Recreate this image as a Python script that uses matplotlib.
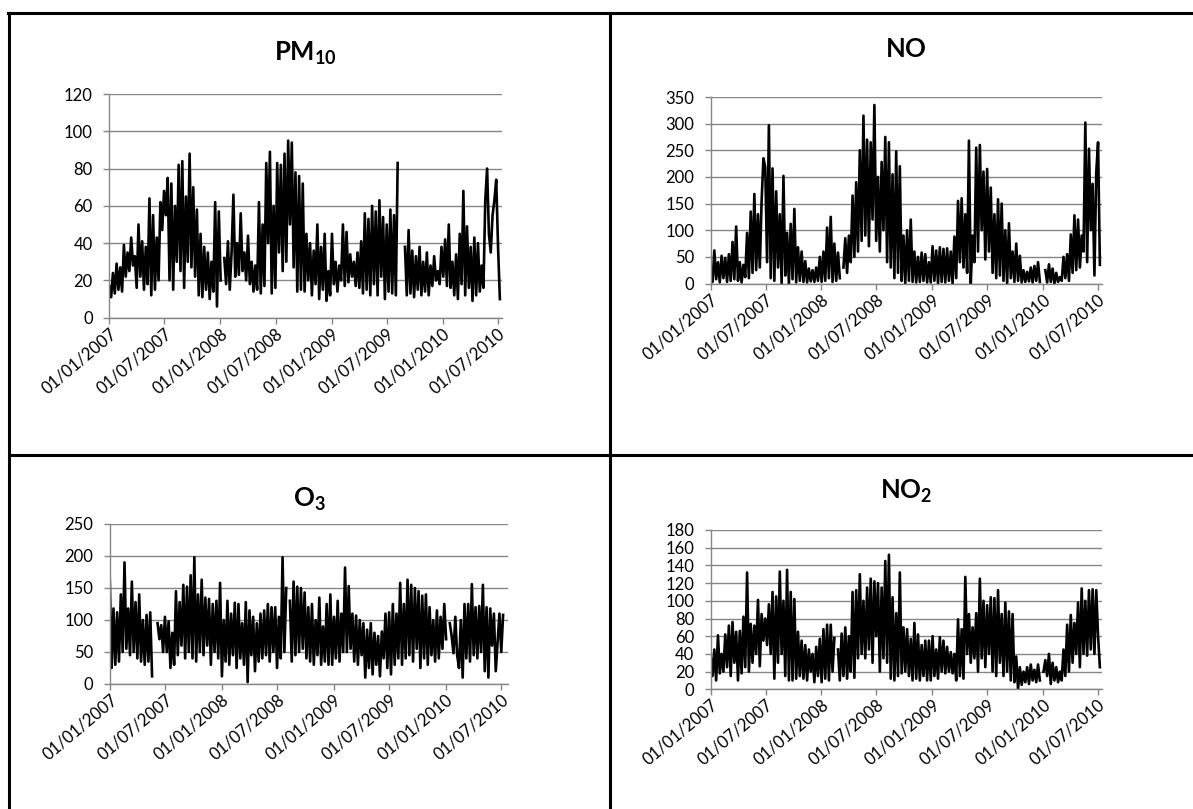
import numpy as np
import pandas as pd
import matplotlib
matplotlib.use('Agg')
import matplotlib.pyplot as plt
from matplotlib.lines import Line2D

plt.rcParams['font.family'] = ['Lato', 'DejaVu Sans']
plt.rcParams['mathtext.fontset'] = 'custom'
plt.rcParams['mathtext.rm'] = 'Lato'
plt.rcParams['mathtext.bf'] = 'Lato:bold'

nan = np.nan

# valors aproximats, un cada 6 dies (aprox. 30 per semestre)
pm10 = [17, 11, 24, 13, 29, 15, 27, 14, 39, 22, 35, 25, 43, 28, 33, 16, 50, 22, 41, 15, 38, 18, 64, 12, 55, 15, 43, 20, 62, 47,
        68, 55, 75, 20, 72, 15, 60, 30, 82, 25, 84, 16, 65, 30, 88, 27, 70, 22, 58, 12, 45, 11, 38, 15, 35, 10, 30, 14, 62, 6,
        57, 20, nan, 32, 18, 41, 15, 35, 66, 22, 40, 23, 56, 25, 35, 20, 44, 18, 30, 14, 28, 15, 62, 13, 50, 17, 83, 40, 89, 13,
        60, 16, 83, 35, 82, 25, 88, 30, 95, 50, 94, 27, 78, 14, 76, 15, 72, 14, 45, 20, 40, 12, 36, 18, 50, 10, 38, 15, 45, 9,
        25, 12, 45, 18, 30, 14, 28, 20, 50, 17, 46, 19, 34, 22, 30, 17, 35, 16, 41, 13, 56, 15, 53, 12, 60, 18, 57, 12, 63, 22,
        54, 10, 50, 14, 58, 13, 55, 12, 83, nan, nan, nan, 38, 12, 47, 13, 36, 11, 33, 15, 38, 12, 30, 14, 35, 12, 28, 17, 33, 20,
        25, 18, 38, 22, 42, 17, 50, 16, 30, 12, 34, 10, 45, 18, 68, 12, 49, 16, 38, 9, 43, 12, 40, 14, 28, 16, 63, 80, 45, 35,
        55, 63, 74, 38, 10]

no = [25, 3, 62, 8, 40, 2, 52, 10, 48, 3, 55, 5, 78, 8, 107, 5, 40, 2, 35, 12, 95, 10, 135, 20, 168, 25, 130, 30, 155, 235,
      218, 40, 297, 10, 216, 5, 173, 30, 130, 0, 202, 15, 95, 0, 112, 8, 140, 2, 68, 5, 60, 3, 42, 2, 28, 4, 25, 3, 30, 5,
      50, 3, 60, 5, 105, 10, 125, 3, 75, 5, 58, 10, nan, 30, 85, 20, 90, 40, 165, 50, 190, 60, 250, 80, 315, 90, 270, 70, 265, 120,
      335, 80, 200, 60, 228, 100, 275, 40, 265, 30, 205, 10, 248, 20, 220, 5, 90, 0, 100, 5, 120, 3, 60, 2, 50, 3, 58, 5, 55, 2,
      40, 2, 70, 5, 62, 0, 68, 3, 65, 2, 66, 5, 60, 0, 88, 10, 155, 40, 160, 30, 130, 20, 268, 0, 90, 40, 255, 60, 260, 100,
      210, 45, 215, 60, 180, 20, 130, 10, 158, 15, 150, 5, 100, 0, 113, 10, 60, 3, 75, 5, 52, 2, 25, 3, 22, 4, 30, 2, 33, 5,
      40, 3, nan, nan, 25, 2, 36, 3, 28, 0, 20, 3, 12, 5, 50, 10, 55, 5, 92, 20, 128, 25, 120, 30, 90, 60, 302, 40, 253, 100,
      187, 15, 208, 265, 35]

o3 = [163, 25, 118, 30, 112, 35, 140, 50, 190, 55, 118, 45, 160, 50, 128, 40, 140, 35, 100, 30, 108, 35, 112, 12, nan, nan, 95, 70, 92, 50,
      105, 50, 98, 25, 80, 30, 145, 45, 128, 60, 155, 40, 152, 50, 170, 40, 198, 35, 140, 50, 163, 45, 135, 60, 133, 30, 125, 50, 130, 40,
      158, 12, 100, 35, 130, 30, 110, 45, 127, 25, 125, 40, 95, 30, 128, 3, 115, 45, 105, 20, 95, 35, 110, 40, 115, 45, 125, 35, 120, 50,
      120, 25, 105, 40, 198, 50, 150, nan, 130, 35, 160, 45, 152, 50, 150, 55, 143, 40, 120, 35, 125, 30, 100, 45, 135, 30, 90, 35, 125, 30,
      140, 30, 105, 40, 130, 35, 110, 50, 182, 50, 153, 55, 110, 35, 107, 30, 100, 45, 95, 10, 85, 25, 95, 15, 80, 30, 75, 12, 82, 40,
      110, 25, 112, 15, 125, 30, 110, 40, 158, 30, 125, 40, 163, 45, 155, 35, 150, 55, 145, 25, 138, 40, 140, 30, 120, 45, 100, 35, 115, 40,
      105, 55, 125, 70, nan, 95, 75, 48, 105, 45, 25, 100, 10, 125, 40, 125, 35, 156, 45, 120, 40, 122, 50, 155, 20, 120, 10, 118, 60, 110,
      20, 65, 110, 50, 108]

no2 = [38, 15, 45, 10, 61, 18, 40, 20, 62, 25, 72, 15, 76, 30, 65, 10, 66, 18, 82, 25, 132, 20, 74, 30, 72, 40, 101, 26, 85, 55,
       80, 50, 96, 40, 110, 12, 105, 30, 133, 40, 100, 15, 135, 10, 110, 10, 102, 12, 65, 15, 55, 12, 50, 10, 45, 20, 40, 8, 48, 15,
       57, 8, 68, 12, 73, 10, 73, 20, 58, nan, 45, 10, 63, 15, 70, 12, 60, 20, 110, 13, 112, 35, 130, 40, 100, 35, 115, 45, 125, 30,
       122, 60, 120, 20, 115, 35, 145, 30, 152, 12, 104, 10, 86, 15, 132, 18, 70, 20, 68, 15, 57, 10, 75, 12, 62, 10, 50, 15, 55, 10,
       55, 10, 60, 15, 45, 12, 59, 20, 55, 18, 48, 20, 42, 18, 40, 10, 79, 15, 68, 12, 127, 40, 85, 30, 70, 35, 86, 20, 125, 35,
       100, 25, 95, 40, 104, 20, 103, 15, 112, 30, 85, 15, 98, 20, 88, 10, 85, 8, 37, 0, 25, 5, 20, 8, 25, 6, 28, 10, 22, 8,
       28, 10, nan, 20, 33, 15, 40, 6, 30, 10, 25, 8, 20, 10, 45, 15, 73, 20, 84, 30, 75, 40, 98, 25, 114, 40, 100, 38, 112, 45,
       113, 40, 112, 60, 25]

titles = [r'$\mathbf{PM_{10}}$', r'$\mathbf{NO}$', r'$\mathbf{O_3}$', r'$\mathbf{NO_2}$']
series = [pm10, no, o3, no2]
ymax = [120, 350, 250, 180]
ystep = [20, 50, 50, 20]
xend = ['2010-07-14', '2010-07-14', '2010-07-24', '2010-07-14']

W, H = 1193, 809
# rectangles dels eixos en pixels: esquerra, dalt, dreta, baix
boxes = [(109.3, 94, 501.7, 317.7), (710.7, 97, 1101.7, 283.5),
         (109.8, 524, 508, 684), (710.7, 530, 1101.7, 689.3)]
title_y = [61, 57, 507, 499]

fig = plt.figure(figsize=(W / 100, H / 100), dpi=100)

ticks = pd.to_datetime(['2007-01-01', '2007-07-01', '2008-01-01', '2008-07-01',
                        '2009-01-01', '2009-07-01', '2010-01-01', '2010-07-01'])
tick_labels = [d.strftime('%d/%m/%Y') for d in ticks]
grey = '#868686'

for i in range(4):
    l, t, r, b = boxes[i]
    ax = fig.add_axes([l / W, 1 - b / H, (r - l) / W, (b - t) / H])
    vals = np.array(series[i], dtype=float)
    dates = pd.date_range('2007-01-01', periods=len(vals), freq='6D')
    ax.plot(dates, vals, color='black', lw=1.9)
    ax.set_xlim(pd.Timestamp('2007-01-01'), pd.Timestamp(xend[i]))
    ax.set_ylim(0, ymax[i])
    ax.set_yticks(np.arange(0, ymax[i] + 1, ystep[i]))
    ax.set_xticks(ticks)
    ax.set_xticklabels(tick_labels, rotation=40, ha='right', rotation_mode='anchor',
                       fontsize=12)
    ax.yaxis.grid(True, color=grey, lw=1)
    ax.set_axisbelow(True)
    for s in ['top', 'right']:
        ax.spines[s].set_visible(False)
    for s in ['left', 'bottom']:
        ax.spines[s].set_color(grey)
        ax.spines[s].set_linewidth(1)
    ax.tick_params(axis='both', colors=grey, labelcolor='black', length=4.5, width=1)
    ax.tick_params(axis='y', labelsize=12, pad=7.5)
    ax.tick_params(axis='x', pad=1)
    cx = (l + r) / 2 / W
    fig.text(cx, 1 - title_y[i] / H, titles[i], ha='center', va='baseline', fontsize=18.5)

# línies de la taula
lw = 2.2
fig.add_artist(Line2D([8 / W, 1], [1 - 12.5 / H, 1 - 12.5 / H], color='black', lw=lw))
fig.add_artist(Line2D([8.5 / W, 8.5 / W], [0, 1 - 12.5 / H], color='black', lw=lw))
fig.add_artist(Line2D([610 / W, 610 / W], [0, 1 - 12.5 / H], color='black', lw=lw))
fig.add_artist(Line2D([8.5 / W, 1], [1 - 455 / H, 1 - 455 / H], color='black', lw=lw))

fig.savefig('out.png', dpi=100)
